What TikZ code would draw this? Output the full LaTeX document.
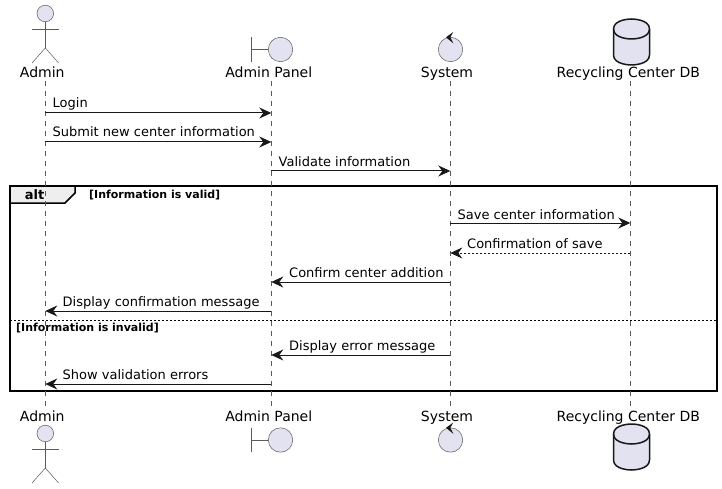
\documentclass[tikz,border=0pt]{standalone}
\usepackage{fontspec}
\setmainfont{DejaVu Sans}
\usetikzlibrary{arrows.meta}
\definecolor{partfill}{HTML}{E2E2F0}
\definecolor{partline}{HTML}{181818}
\definecolor{thinline}{HTML}{5A5A5A}
\definecolor{tabfill}{HTML}{EEEEEE}
\tikzstyle{part} = [draw=thinline, line width=0.5pt, fill=partfill]
\tikzstyle{limb} = [draw=thinline, line width=0.5pt]
\tikzstyle{partlabel} = [inner sep=0pt, anchor=base, font=\fontsize{14}{16}\selectfont]
\tikzstyle{msglabel} = [inner sep=0pt, anchor=base west, font=\fontsize{13}{15}\selectfont]
\tikzstyle{guard} = [inner sep=0pt, anchor=base west, font=\bfseries\fontsize{11}{13}\selectfont]
\tikzstyle{lifeline} = [draw=thinline, line width=0.5pt, dash pattern=on 5pt off 5pt]
\tikzstyle{msg} = [draw=partline, line width=1pt, -{Stealth[length=12pt, width=11pt, inset=4pt, fill=partline]}]
\tikzstyle{reply} = [msg, dash pattern=on 2pt off 2pt]

\begin{document}
\begin{tikzpicture}[x=1pt, y=-1pt]
                \useasboundingbox (0, 0) rectangle (722, 489);
                % alt frame
                \draw [line width=1.5pt, draw=black] (10, 186) rectangle (717, 391);
                \draw [line width=1.5pt, draw=black, fill=tabfill] (10, 186) -- (75, 186) -- (75, 193) -- (65, 203) -- (10, 203) -- cycle;
                \draw [line width=1pt, draw=black, dash pattern=on 2pt off 2pt] (10, 320) -- (717, 320);
                \node (altTag) [inner sep=0pt, anchor=base, font=\bfseries\fontsize{13}{15}\selectfont] at (34.5, 199) {alt};
                \node (validGuard) [guard] at (89, 198) {[Information is valid]};
                \node (invalidGuard) [guard] at (16, 331) {[Information is invalid]};
                % lifelines and message rows
                \foreach \name/\x in {admin/45.3, panel/271.3, sys/450.3, db/630.3} {
                    \coordinate (\name Top) at (\x, 81);
                    \coordinate (\name End) at (\x, 406);
                    \draw [lifeline] (\name Top) -- (\name End);
                    \foreach \n/\y in {1/113, 2/142, 3/171, 4/223, 5/253, 6/282, 7/311, 8/355, 9/384} {
                        \coordinate (\name\n) at (\x, \y);
                    }
                }
                % participants, top and bottom
                \foreach \pos/\ylabel/\yactor/\yother/\ydb in {Up/78/0/0/0, Down/421/420/390.5/405} {
                    \node (adminLabel\pos) [partlabel] at (42.3, \ylabel) {Admin};
                    \node (panelLabel\pos) [partlabel] at (268.8, \ylabel) {Admin Panel};
                    \node (sysLabel\pos) [partlabel] at (447, \ylabel) {System};
                    \node (dbLabel\pos) [partlabel] at (628.3, \ylabel) {Recycling Center DB};
                    \begin{scope}[shift={(0, \yactor)}]
                        \draw [part] (45.3, 13.5) circle [radius=8.3];
                        \draw [limb] (45.3, 21.8) -- (45.3, 48) (32, 29) -- (58.6, 29);
                        \draw [limb] (32, 63) -- (45.3, 48) -- (58.6, 63);
                    \end{scope}
                    \begin{scope}[shift={(0, \yother)}]
                        \draw [limb] (251.5, 37.3) -- (251.5, 61.7) (251.5, 49.5) -- (268.2, 49.5);
                        \draw [part] (280.5, 49.5) circle [radius=12.2];
                        \draw [part] (450.5, 49.5) circle [radius=12.2];
                        \fill [partline] (453.3, 32) -- (446, 37.3) -- (453.3, 43.3) -- (450.3, 37.3) -- cycle;
                    \end{scope}
                    \begin{scope}[shift={(0, \ydb)}]
                        \draw [part, draw=partline, line width=1.5pt] (613.5, 29) .. controls (613.5, 19) and (631.5, 19) .. (631.5, 19) .. controls (631.5, 19) and (649.5, 19) .. (649.5, 29) -- (649.5, 55) .. controls (649.5, 65) and (631.5, 65) .. (631.5, 65) .. controls (631.5, 65) and (613.5, 65) .. (613.5, 55) -- cycle;
                        \draw [draw=partline, line width=1.5pt] (613.5, 29) .. controls (613.5, 39) and (631.5, 39) .. (631.5, 39) .. controls (631.5, 39) and (649.5, 39) .. (649.5, 29);
                    \end{scope}
                }
                % messages
                \draw [msg] (admin1) -- (panel1);
                \draw [msg] (admin2) -- (panel2);
                \draw [msg] (panel3) -- (sys3);
                \draw [msg] (sys4) -- (db4);
                \draw [reply] (db5) -- (sys5);
                \draw [msg] (sys6) -- (panel6);
                \draw [msg] (panel7) -- (admin7);
                \draw [msg] (sys8) -- (panel8);
                \draw [msg] (panel9) -- (admin9);
                \node (loginText) [msglabel] at (52.5, 108) {Login};
                \node (submitText) [msglabel] at (52.5, 137) {Submit new center information};
                \node (validateText) [msglabel] at (278.5, 166.5) {Validate information};
                \node (saveText) [msglabel] at (457.5, 219) {Save center information};
                \node (confSaveText) [msglabel] at (467, 248) {Confirmation of save};
                \node (confirmText) [msglabel] at (289, 277.5) {Confirm center addition};
                \node (displayText) [msglabel] at (62.5, 306) {Display confirmation message};
                \node (errorText) [msglabel] at (289, 350) {Display error message};
                \node (showText) [msglabel] at (62.5, 379) {Show validation errors};
            \end{tikzpicture}
\end{document}
